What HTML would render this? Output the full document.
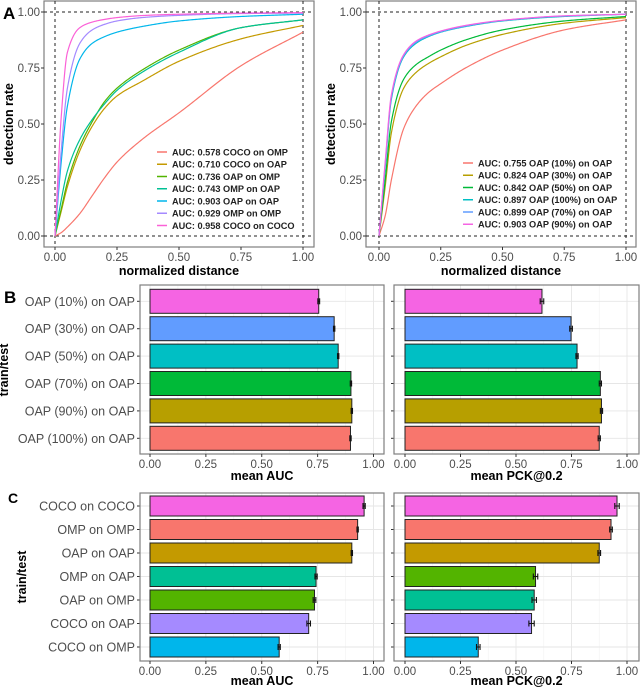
<!DOCTYPE html>
<html><head><meta charset="utf-8"><style>
body{margin:0;background:#fff}
svg{display:block;font-family:"Liberation Sans",sans-serif}
</style></head><body>
<svg id="fig" width="640" height="688" viewBox="0 0 640 688" xmlns="http://www.w3.org/2000/svg"></svg>
<script>
// ---------- Panel A data ----------
const curveX = [0, 0.025, 0.05, 0.1, 0.15, 0.2, 0.25, 0.35, 0.5, 0.75, 1.0];
const leftLabels = ["AUC: 0.578 COCO on OMP","AUC: 0.710 COCO on OAP","AUC: 0.736 OAP on OMP","AUC: 0.743 OMP on OAP","AUC: 0.903 OAP on OAP","AUC: 0.929 OMP on OMP","AUC: 0.958 COCO on COCO"];
const leftColors = ["#F8766D","#C49A00","#53B400","#00C094","#00B6EB","#A58AFF","#FB61D7"];
const leftCocoOmp  = [0, 0.015, 0.04, 0.10, 0.18, 0.26, 0.33, 0.43, 0.55, 0.76, 0.91];
const leftCocoOap  = [0, 0.11, 0.22, 0.38, 0.49, 0.57, 0.625, 0.69, 0.78, 0.88, 0.94];
const leftOapOmp   = [0, 0.12, 0.24, 0.40, 0.51, 0.60, 0.66, 0.74, 0.83, 0.93, 0.965];
const leftOmpOap   = [0, 0.16, 0.29, 0.43, 0.52, 0.59, 0.65, 0.73, 0.82, 0.93, 0.965];
const leftOapOap   = [0, 0.33, 0.58, 0.79, 0.86, 0.89, 0.91, 0.935, 0.96, 0.98, 0.99];
const leftOmpOmp   = [0, 0.38, 0.66, 0.86, 0.92, 0.945, 0.96, 0.975, 0.985, 0.993, 0.995];
const leftCocoCoco = [0, 0.53, 0.82, 0.93, 0.955, 0.967, 0.975, 0.984, 0.99, 0.995, 0.997];
const leftSeries = [leftCocoOmp,leftCocoOap,leftOapOmp,leftOmpOap,leftOapOap,leftOmpOmp,leftCocoCoco];

const rightLabels = ["AUC: 0.755 OAP (10%) on OAP","AUC: 0.824 OAP (30%) on OAP","AUC: 0.842 OAP (50%) on OAP","AUC: 0.897 OAP (100%) on OAP","AUC: 0.899 OAP (70%) on OAP","AUC: 0.903 OAP (90%) on OAP"];
const rightColors = ["#F8766D","#B79F00","#00BA38","#00BFC4","#619CFF","#F564E3"];
const right10  = [0, 0.09, 0.25, 0.48, 0.58, 0.64, 0.68, 0.75, 0.83, 0.92, 0.965];
const right30  = [0, 0.22, 0.46, 0.66, 0.73, 0.77, 0.80, 0.85, 0.90, 0.95, 0.975];
const right50  = [0, 0.25, 0.51, 0.70, 0.765, 0.80, 0.83, 0.875, 0.92, 0.96, 0.98];
const right100 = [0, 0.31, 0.61, 0.80, 0.86, 0.89, 0.91, 0.935, 0.96, 0.98, 0.99];
const right70  = [0, 0.32, 0.62, 0.805, 0.865, 0.893, 0.912, 0.937, 0.962, 0.982, 0.99];
const right90  = [0, 0.33, 0.63, 0.81, 0.87, 0.897, 0.915, 0.94, 0.963, 0.983, 0.99];
const rightSeries = [right10,right30,right50,right100,right70,right90];

const unitTicks = [0, 0.25, 0.5, 0.75, 1.0];
const unitTickLabels = ["0.00","0.25","0.50","0.75","1.00"];

// ---------- Panel B data ----------
const bCats = ["OAP (10%) on OAP","OAP (30%) on OAP","OAP (50%) on OAP","OAP (70%) on OAP","OAP (90%) on OAP","OAP (100%) on OAP"];
const bColors = ["#F564E3","#619CFF","#00BFC4","#00BA38","#B79F00","#F8766D"];
const bAuc = [0.755, 0.824, 0.842, 0.899, 0.903, 0.897];
const bAucErr = [0.004, 0.003, 0.003, 0.003, 0.003, 0.003];
const bPck = [0.617, 0.748, 0.775, 0.880, 0.885, 0.875];
const bPckErr = [0.008, 0.006, 0.005, 0.005, 0.005, 0.005];

// ---------- Panel C data ----------
const cCats = ["COCO on COCO","OMP on OMP","OAP on OAP","OMP on OAP","OAP on OMP","COCO on OAP","COCO on OMP"];
const cAucColors = ["#F564E3","#F8766D","#C49A00","#00C094","#53B400","#A58AFF","#00B6EB"];
const cPckColors = ["#F564E3","#F8766D","#C49A00","#53B400","#00C094","#A58AFF","#00B6EB"];
const cAuc = [0.958, 0.929, 0.903, 0.743, 0.736, 0.710, 0.578];
const cPck = [0.955, 0.928, 0.875, 0.588, 0.582, 0.570, 0.330];
const cAucErr = [0.005, 0.003, 0.003, 0.005, 0.006, 0.008, 0.005];
const cPckErr = [0.010, 0.006, 0.006, 0.010, 0.010, 0.012, 0.008];

const NS = "http://www.w3.org/2000/svg";
const svg = document.getElementById('fig');
function mk(tag, attrs, parent){ const e=document.createElementNS(NS,tag); for(const k in attrs) e.setAttribute(k,attrs[k]); (parent||svg).appendChild(e); return e; }
function txt(s, attrs, parent){ const e=mk('text',attrs,parent); e.textContent=s; return e; }

// monotone cubic (Fritsch-Carlson) interpolation
function monotone(xs, ys){
  const n=xs.length, d=[], m=new Array(n);
  for(let i=0;i<n-1;i++) d.push((ys[i+1]-ys[i])/(xs[i+1]-xs[i]));
  m[0]=d[0]; m[n-1]=d[n-2];
  for(let i=1;i<n-1;i++){
    if(d[i-1]*d[i]<=0) m[i]=0;
    else { const w1=2*(xs[i+1]-xs[i])+(xs[i]-xs[i-1]), w2=(xs[i+1]-xs[i])+2*(xs[i]-xs[i-1]); m[i]=(w1+w2)/(w1/d[i-1]+w2/d[i]); }
  }
  return function(x){
    let i=0; while(i<n-2 && x>xs[i+1]) i++;
    const h=xs[i+1]-xs[i], t=(x-xs[i])/h, t2=t*t, t3=t2*t;
    return (2*t3-3*t2+1)*ys[i]+(t3-2*t2+t)*h*m[i]+(-2*t3+3*t2)*ys[i+1]+(t3-t2)*h*m[i+1];
  };
}

function linePanel(name, box, x0, x1, series, colors, labels, legX, legY){
  const g = mk('g',{});
  
  
  const y0 = 236, y1 = 12;
  const sx = v => x0 + v*(x1-x0);
  const sy = v => y0 + v*(y1-y0);
  mk('rect',{x:box[0],y:box[1],width:box[2]-box[0],height:box[3]-box[1],fill:'#fff',stroke:'#7f7f7f','stroke-width':1.2},g);
  [[sx(0),box[1],sx(0),box[3]],[sx(1),box[1],sx(1),box[3]],[box[0],sy(0),box[2],sy(0)],[box[0],sy(1),box[2],sy(1)]].forEach(l=>{
    const d=mk('line',{x1:l[0],y1:l[1],x2:l[2],y2:l[3],stroke:'#222','stroke-width':1,'stroke-dasharray':'3,3'},g);
    
    
  });
  series.forEach((s,i)=>{
    const f = monotone(curveX, s);
    let pts=[];
    for(let k=0;k<=300;k++){ const xv=Math.pow(k/300,1.6); pts.push(sx(xv).toFixed(2)+','+sy(f(xv)).toFixed(2)); }
    const p=mk('polyline',{points:pts.join(' '),fill:'none',stroke:colors[i],'stroke-width':1.2,'stroke-linejoin':'round'},g);
    
    
  });
  unitTicks.forEach((t,i)=>{
    mk('line',{x1:box[0]-3,y1:sy(t),x2:box[0],y2:sy(t),stroke:'#333'},g);
    const a=txt(unitTickLabels[i],{x:box[0]-4,y:sy(t)+4,'text-anchor':'end','font-size':11.5,fill:'#4d4d4d'},g);
    
    
    mk('line',{x1:sx(t),y1:box[3],x2:sx(t),y2:box[3]+3,stroke:'#333'},g);
    const b=txt(unitTickLabels[i],{x:sx(t),y:box[3]+14,'text-anchor':'middle','font-size':11.5,fill:'#4d4d4d'},g);
    
    
  });
  const xt=txt('normalized distance',{x:(box[0]+box[2])/2,y:275,'text-anchor':'middle','font-size':12.5,'font-weight':'bold'},g);
  
  
  const yc=(box[1]+box[3])/2, yx=box[0]-31;
  const yt=txt('detection rate',{x:yx,y:yc,'text-anchor':'middle','font-size':12.5,'font-weight':'bold',transform:`rotate(-90 ${yx} ${yc})`},g);
  
  
  labels.forEach((l,i)=>{
    const y=legY+i*12.25;
    const le=mk('g',{},g);
    
    
    mk('line',{x1:legX,y1:y,x2:legX+10,y2:y,stroke:colors[i],'stroke-width':1.5},le);
    txt(l,{x:legX+15,y:y+3.3,'font-size':9.2,'font-weight':'bold',fill:'#222'},le);
  });
}

function barPanel(name, box, x0, x1, cats, vals, errs, colors, centerTop, step, barH, title, titleY, showLabels, labelX){
  const g = mk('g',{});
  
  
  const sx = v => x0 + v*(x1-x0);
  mk('rect',{x:box[0],y:box[1],width:box[2]-box[0],height:box[3]-box[1],fill:'#fff'},g);
  [0.125,0.375,0.625,0.875].forEach(t=>mk('line',{x1:sx(t),y1:box[1],x2:sx(t),y2:box[3],stroke:'#f2f2f2','stroke-width':0.6},g));
  unitTicks.forEach(t=>mk('line',{x1:sx(t),y1:box[1],x2:sx(t),y2:box[3],stroke:'#e6e6e6','stroke-width':0.9},g));
  cats.forEach((c,i)=>{
    const cy=centerTop+i*step;
    mk('line',{x1:box[0],y1:cy,x2:box[2],y2:cy,stroke:'#e6e6e6','stroke-width':0.9},g);
  });
  cats.forEach((c,i)=>{
    const cy=centerTop+i*step;
    const r=mk('rect',{x:sx(0),y:cy-barH/2,width:sx(vals[i])-sx(0),height:barH,fill:colors[i],stroke:'#222','stroke-width':1},g);
    
    
    const e1=sx(vals[i]-errs[i]), e2=sx(vals[i]+errs[i]);
    const eg=mk('g',{stroke:'#111','stroke-width':1.1},g);
    
    
    mk('line',{x1:e1,y1:cy,x2:e2,y2:cy},eg);
    mk('line',{x1:e1,y1:cy-3,x2:e1,y2:cy+3},eg);
    mk('line',{x1:e2,y1:cy-3,x2:e2,y2:cy+3},eg);
    mk('line',{x1:box[0]-3,y1:cy,x2:box[0],y2:cy,stroke:'#333'},g);
    if(showLabels){
      const t=txt(c,{x:labelX,y:cy+4.5,'text-anchor':'end','font-size':12.5,fill:'#4d4d4d'},g);
      
      
    }
  });
  mk('rect',{x:box[0],y:box[1],width:box[2]-box[0],height:box[3]-box[1],fill:'none',stroke:'#7f7f7f','stroke-width':1.2},g);
  unitTicks.forEach((t,i)=>{
    mk('line',{x1:sx(t),y1:box[3],x2:sx(t),y2:box[3]+3,stroke:'#333'},g);
    const b=txt(unitTickLabels[i],{x:sx(t),y:box[3]+14,'text-anchor':'middle','font-size':11.5,fill:'#4d4d4d'},g);
    
    
  });
  const xt=txt(title,{x:(box[0]+box[2])/2,y:titleY,'text-anchor':'middle','font-size':12.5,'font-weight':'bold'},g);
  
  
}

linePanel('panel-a-left',[44,1,314,247],55,303,leftSeries,leftColors,leftLabels,157,152);
linePanel('panel-a-right',[366,1,636,247],379,626,rightSeries,rightColors,rightLabels,463,163);
barPanel('panel-b-auc',[140,285,384,454],150,373.5,bCats,bAuc,bAucErr,bColors,301.3,27.4,24,'mean AUC',480,true,135);
barPanel('panel-b-pck',[394,285,639,454],405,627,bCats,bPck,bPckErr,bColors,301.3,27.4,24,'mean PCK@0.2',480,false,0);
barPanel('panel-c-auc',[140,493,384,661],150,373.5,cCats,cAuc,cAucErr,cAucColors,506,23.5,20,'mean AUC',685,true,135);
barPanel('panel-c-pck',[394,493,639,661],405,627,cCats,cPck,cPckErr,cPckColors,506,23.5,20,'mean PCK@0.2',685,false,0);

[['train/test',8,370,'panel-b-y-title'],['train/test',26,577,'panel-c-y-title']].forEach(a=>{
  const t=txt(a[0],{x:a[1],y:a[2],'text-anchor':'middle','font-size':12.5,'font-weight':'bold',transform:`rotate(-90 ${a[1]} ${a[2]})`});
  
  
});
[['A',3,19],['B',4,303],['C',8,503]].forEach(a=>{
  const t=txt(a[0],{x:a[1],y:a[2],'font-size':a[0]==='C'?14:17,'font-weight':'bold'});
  
  
});
</script>
</body></html>
